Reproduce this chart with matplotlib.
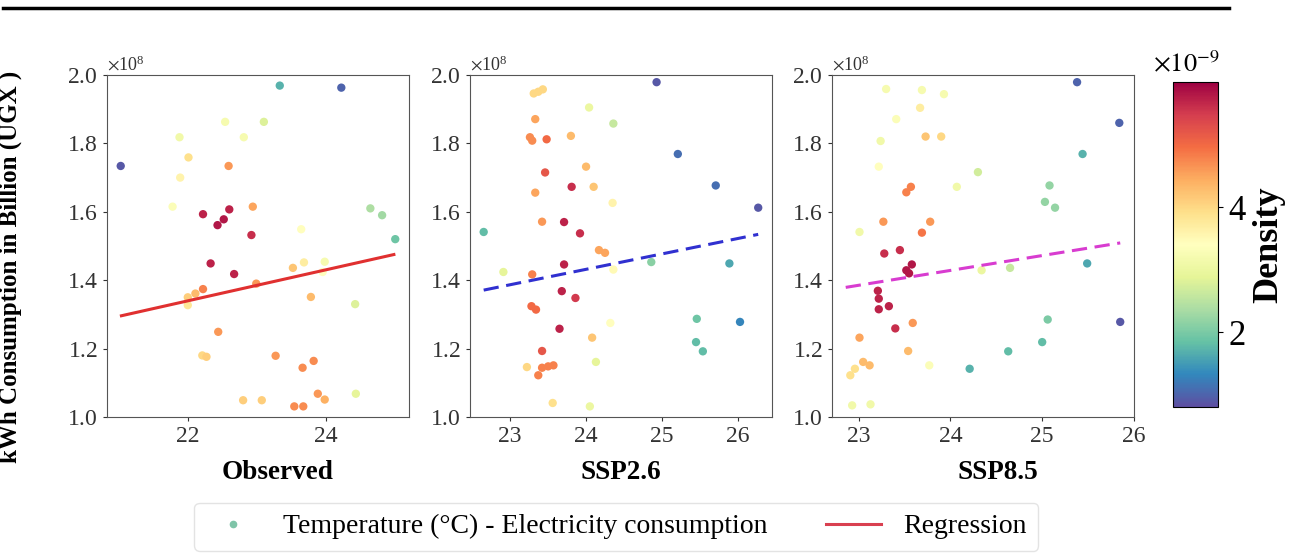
import numpy as np
import matplotlib
matplotlib.use("Agg")
import matplotlib.pyplot as plt
from matplotlib.lines import Line2D
from matplotlib.colors import Normalize

plt.rcParams['font.family'] = ['Liberation Serif', 'DejaVu Serif']
plt.rcParams['mathtext.fontset'] = 'stix'

# temperature (°C), consumption (x1e8), density (x1e-9)
obs_x = [21.03, 23.33, 24.22, 23.10, 22.54, 21.88, 22.81, 22.01, 22.59, 21.89,
         21.78, 22.94, 22.22, 22.60, 22.52, 22.43, 22.92, 24.64, 24.81, 25.00,
         23.64, 22.33, 22.67, 23.52, 23.68, 23.98, 23.95, 22.99, 22.22, 22.11,
         22.00, 22.00, 23.78, 24.42, 22.44, 22.21, 22.27, 23.27, 23.66, 23.82,
         22.80, 23.07, 23.54, 23.67, 23.88, 23.98, 24.43]
obs_y = [1.734, 1.969, 1.963, 1.863, 1.863, 1.818, 1.818, 1.759, 1.734, 1.700,
         1.615, 1.615, 1.593, 1.607, 1.578, 1.561, 1.532, 1.610, 1.590, 1.520,
         1.549, 1.449, 1.418, 1.436, 1.452, 1.454, 1.424, 1.390, 1.374, 1.361,
         1.350, 1.327, 1.351, 1.330, 1.249, 1.180, 1.176, 1.179, 1.144, 1.164,
         1.049, 1.049, 1.031, 1.031, 1.068, 1.051, 1.068]
obs_d = [0.9, 1.7, 1.0, 2.8, 3.2, 3.1, 3.2, 3.9, 4.6, 3.6,
         3.3, 4.5, 5.7, 5.7, 5.8, 5.8, 5.6, 2.4, 2.3, 1.9,
         3.4, 5.7, 5.7, 4.2, 3.7, 3.2, 3.4, 4.6, 4.8, 4.3,
         4.1, 3.8, 4.3, 2.8, 4.6, 4.0, 4.1, 4.6, 4.7, 4.7,
         4.1, 4.1, 4.7, 4.7, 4.6, 4.4, 2.9]

ssp26_x = [22.65, 22.91, 23.31, 23.37, 23.43, 23.33, 23.26, 23.29, 23.48, 23.46,
           23.33, 23.42, 23.80, 24.00, 24.10, 23.81, 23.71, 23.92, 24.04, 24.36,
           24.35, 24.17, 24.25, 23.71, 24.36, 23.29, 23.68, 23.86, 23.28, 23.34,
           23.65, 24.32, 24.08, 23.42, 23.22, 23.42, 23.50, 23.57, 23.37, 23.56,
           24.05, 24.13, 24.93, 25.21, 25.71, 26.27, 24.86, 25.89, 25.46, 25.45,
           25.54, 26.03]
ssp26_y = [1.541, 1.424, 1.946, 1.951, 1.958, 1.871, 1.818, 1.808, 1.812, 1.715,
           1.656, 1.571, 1.822, 1.732, 1.673, 1.673, 1.570, 1.537, 1.905, 1.858,
           1.626, 1.488, 1.480, 1.446, 1.431, 1.417, 1.368, 1.348, 1.324, 1.314,
           1.258, 1.275, 1.232, 1.193, 1.146, 1.144, 1.148, 1.151, 1.122, 1.041,
           1.031, 1.161, 1.979, 1.769, 1.677, 1.612, 1.453, 1.449, 1.287, 1.219,
           1.192, 1.278]
ssp26_d = [1.8, 2.9, 4.0, 4.0, 4.0, 4.5, 4.7, 4.7, 5.0, 5.2,
           4.5, 4.6, 4.3, 4.3, 4.2, 5.6, 5.7, 5.6, 3.0, 2.6,
           3.6, 4.5, 4.5, 5.7, 3.5, 4.8, 5.7, 5.5, 5.0, 5.0,
           5.7, 3.4, 4.2, 5.2, 4.0, 4.8, 4.8, 4.8, 4.8, 3.9,
           3.0, 2.9, 0.9, 1.1, 1.1, 0.9, 2.1, 1.6, 1.9, 1.8,
           1.8, 1.3]

ssp85_x = [23.30, 23.69, 23.93, 23.67, 23.41, 23.73, 23.90, 23.24, 23.22, 24.30,
           24.07, 23.57, 23.52, 23.27, 23.78, 23.69, 23.01, 23.28, 23.45, 23.58,
           23.52, 23.55, 24.34, 24.65, 25.03, 25.14, 25.08, 25.44, 25.38, 25.84,
           25.49, 25.85, 25.06, 25.00, 24.63, 24.21, 23.77, 23.21, 23.22, 23.22,
           23.33, 23.40, 23.59, 23.54, 23.01, 23.05, 23.12, 22.91, 22.96, 22.93,
           23.13]
ssp85_y = [1.959, 1.956, 1.944, 1.904, 1.871, 1.820, 1.820, 1.807, 1.732, 1.716,
           1.673, 1.673, 1.657, 1.571, 1.571, 1.539, 1.541, 1.478, 1.488, 1.446,
           1.429, 1.420, 1.429, 1.436, 1.629, 1.612, 1.677, 1.769, 1.979, 1.860,
           1.449, 1.278, 1.285, 1.219, 1.192, 1.141, 1.151, 1.369, 1.346, 1.315,
           1.324, 1.259, 1.275, 1.193, 1.232, 1.161, 1.151, 1.122, 1.141, 1.034,
           1.037]
ssp85_d = [3.2, 3.2, 3.2, 3.7, 3.3, 4.2, 4.0, 3.1, 3.4, 2.7,
           3.1, 4.8, 4.8, 4.6, 4.6, 4.9, 3.1, 5.6, 5.6, 5.8,
           5.8, 5.8, 3.0, 2.6, 2.2, 2.2, 2.2, 1.7, 1.0, 1.0,
           1.6, 0.9, 2.0, 1.8, 1.8, 1.7, 3.3, 5.7, 5.7, 5.7,
           5.7, 5.6, 4.6, 4.3, 4.5, 4.3, 4.3, 3.9, 3.9, 3.1,
           3.1]

# regression line end points (x, y x1e8)
reg_obs = ([21.04, 24.98], [1.296, 1.475])
reg_26 = ([22.65, 26.27], [1.371, 1.534])
reg_85 = ([22.86, 25.85], [1.379, 1.509])

panels = [
    ("Observed", obs_x, obs_y, obs_d, reg_obs, "#e03030", None, [22, 24], 0.564),
    ("SSP2.6", ssp26_x, ssp26_y, ssp26_d, reg_26, "#3030d0", (5, 2.5), [23, 24, 25, 26], 0.5),
    ("SSP8.5", ssp85_x, ssp85_y, ssp85_d, reg_85, "#d83cd0", (5, 2.5), [23, 24, 25, 26], 0.55),
]

fig = plt.figure(figsize=(13, 5.58), dpi=100)
lefts = [0.0823, 0.3615, 0.64]
norm = Normalize(vmin=0.8e-9, vmax=6.0e-9)
cmap = plt.get_cmap("Spectral_r")

for left, (name, xs, ys, ds, reg, rc, dash, xt, lx) in zip(lefts, panels):
    ax = fig.add_axes([left, 0.2527, 0.2323, 0.6129])
    sc = ax.scatter(xs, np.array(ys) * 1e8, c=np.array(ds) * 1e-9, cmap=cmap,
                    norm=norm, s=36, linewidths=0)
    ln, = ax.plot(reg[0], np.array(reg[1]) * 1e8, color=rc, lw=2.2)
    if dash:
        ln.set_dashes(dash)
    ax.set_ylim(1e8, 2e8)
    ax.set_xticks(xt)
    ax.set_yticks(np.arange(1.0, 2.01, 0.2) * 1e8)
    ax.ticklabel_format(axis='y', style='sci', scilimits=(0, 0), useMathText=True)
    ax.yaxis.get_offset_text().set_fontsize(13)
    ax.tick_params(labelsize=17, colors='#333333', length=3)
    for sp in ax.spines.values():
        sp.set_color('#555555')
    ax.set_xlabel(name, fontsize=19.5, fontweight='bold')
    ax.xaxis.set_label_coords(lx, -0.125)
    if left == lefts[0]:
        ax.set_ylabel("kWh Consumption in Billion (UGX )", fontsize=18,
                      fontweight='bold')
        ax.yaxis.set_label_coords(-0.28, 0.44)

cax = fig.add_axes([0.9023, 0.2706, 0.0346, 0.5824])
cb = fig.colorbar(sc, cax=cax)
cb.formatter.set_useMathText(True)
cb.formatter.set_powerlimits((0, 0))
cb.set_ticks([2e-9, 4e-9])
cb.update_ticks()
cb.ax.tick_params(labelsize=25)
cb.ax.yaxis.get_offset_text().set_visible(False)
cax.text(0.3, 1.015, r"$\times10^{-9}$", transform=cax.transAxes,
         ha='center', va='bottom', fontsize=19)
cb.set_label("Density", fontsize=26, fontweight='bold', labelpad=4)

handles = [Line2D([], [], marker='o', ls='none', color='#7fc4a8', markersize=4.5),
           Line2D([], [], color='#d94050', lw=2.2)]
fig.legend(handles, ["Temperature (°C) - Electricity consumption", "Regression"],
           loc='center', bbox_to_anchor=(0.474, 0.056), ncol=2, fontsize=20,
           frameon=True, edgecolor='#dddddd', handlelength=2.0,
           columnspacing=2.1, handletextpad=0.8)

# rule at the top of the page
fig.add_artist(Line2D([0.002, 0.945], [0.985, 0.985], color='black', lw=2.5))

fig.savefig("out.png", dpi=100)
